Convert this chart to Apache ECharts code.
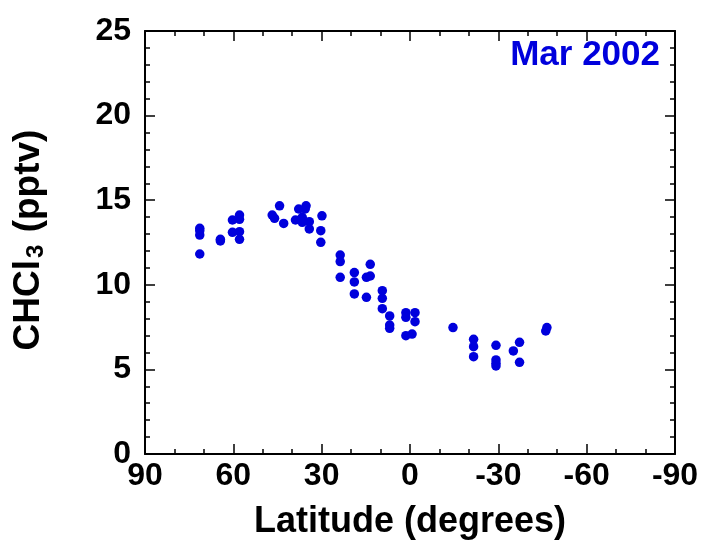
<!DOCTYPE html>
<html><head><meta charset="utf-8">
<script src="https://cdn.jsdelivr.net/npm/echarts@6/dist/echarts.min.js"></script>
<style>html,body{margin:0;padding:0;background:#fff}#c{width:703px;height:545px}</style>
</head><body><div id="c"></div>
<script>
// Latitude (degrees) of each sample
var latitudes = [71.4,71.4,71.4,71.4, 64.4,64.4, 60.3,60.3, 57.9,57.9,57.9,57.9,
  46.8,46.0, 44.3, 42.9, 38.9, 37.8, 36.6,36.6, 35.3,35.6, 34.2,34.2, 29.9,30.3,30.3,
  23.7,23.7,23.7, 18.9,18.9,18.9, 14.8,13.5,13.5,14.8, 9.4,9.4,9.4, 6.9,6.9,6.9,
  1.4,1.4,-1.7,-1.7,1.4,-0.7, -14.6, -21.6,-21.6,-21.6, -29.2,-29.2,-29.2,-29.2,
  -35.1,-37.2,-37.2, -46.5,-46.1];
// CHCl3 mixing ratio (pptv)
var chcl3 = [13.34,13.2,12.94,11.82, 12.69,12.59, 13.83,13.1, 14.12,13.87,13.14,12.69,
  14.12,13.93, 14.67, 13.63, 13.83, 14.48, 13.99,13.69, 14.67,14.48, 13.73,13.3, 14.08,13.2,12.51,
  11.76,11.37,10.44, 10.72,10.17,9.46, 10.44,10.52,11.21,9.26, 9.65,9.2,8.59, 8.16,7.62,7.43,
  8.35,8.08,8.35,7.82,6.99,7.09, 7.47, 6.78,6.34,5.75, 6.42,5.56,5.36,5.2,
  6.09,6.6,5.42, 7.47,7.27];
var xTicks = [90,60,30,0,-30,-60,-90];
var yTicks = [0,5,10,15,20,25];
var titleText = 'Mar 2002';

var pts = latitudes.map(function(v,i){return [v, chcl3[i]];});
var blue = '#0000dc';
var fontFam = 'Liberation Sans, Arial, sans-serif';
var chart = echarts.init(document.getElementById('c'));
function xAx(pos, show){
  return {type:'value', position:pos, min:-90, max:90, interval:30, inverse:true,
    axisLine:{show:true, onZero:false, lineStyle:{color:'#000', width:2}},
    axisTick:{show:true, inside:true, length:10, lineStyle:{color:'#000', width:1.5}},
    minorTick:{show:true, splitNumber:3, length:5, lineStyle:{color:'#000', width:1.5}},
    splitLine:{show:false},
    axisLabel:{show:show, color:'#000', fontSize:32, fontWeight:'bold', fontFamily:fontFam, margin:6,
      formatter:function(v){return xTicks.indexOf(v)>=0 ? String(v) : '';}},
    name: show ? 'Latitude (degrees)' : '', nameLocation:'middle', nameGap:50,
    nameTextStyle:{color:'#000', fontSize:36, fontWeight:'bold', fontFamily:fontFam}
  };
}
function yAx(pos, show){
  return {type:'value', position:pos, min:0, max:25, interval:5,
    axisLine:{show:true, onZero:false, lineStyle:{color:'#000', width:2}},
    axisTick:{show:true, inside:true, length:10, lineStyle:{color:'#000', width:1.5}},
    minorTick:{show:true, splitNumber:5, length:5, lineStyle:{color:'#000', width:1.5}},
    splitLine:{show:false},
    axisLabel:{show:show, color:'#000', fontSize:32, fontWeight:'bold', fontFamily:fontFam, margin:14,
      formatter:function(v){return yTicks.indexOf(v)>=0 ? String(v) : '';}}
  };
}
chart.setOption({
  animation:false,
  backgroundColor:'#fff',
  grid:{left:145, right:28, top:31, bottom:91},
  xAxis:[xAx('bottom', true), xAx('top', false)],
  yAxis:[yAx('left', true), yAx('right', false)],
  graphic:[
    {type:'text', right:43, top:38, style:{text:titleText, fill:blue, fontSize:35, fontWeight:'bold', fontFamily:fontFam}},
    {type:'text', x:29, y:240, rotation:Math.PI/2,
      style:{text:'CHCl{s|3} (pptv)', fill:'#000', fontSize:37, fontWeight:'bold', fontFamily:fontFam,
        align:'center', verticalAlign:'middle',
        rich:{s:{fontSize:24, fontWeight:'bold', fontFamily:fontFam, fill:'#000', padding:[14,2,0,2]}}}}
  ],
  series:[{type:'scatter', xAxisIndex:0, yAxisIndex:0, data:pts, symbol:'circle', symbolSize:9.5,
    itemStyle:{color:blue, opacity:1}}]
});
</script></body></html>
